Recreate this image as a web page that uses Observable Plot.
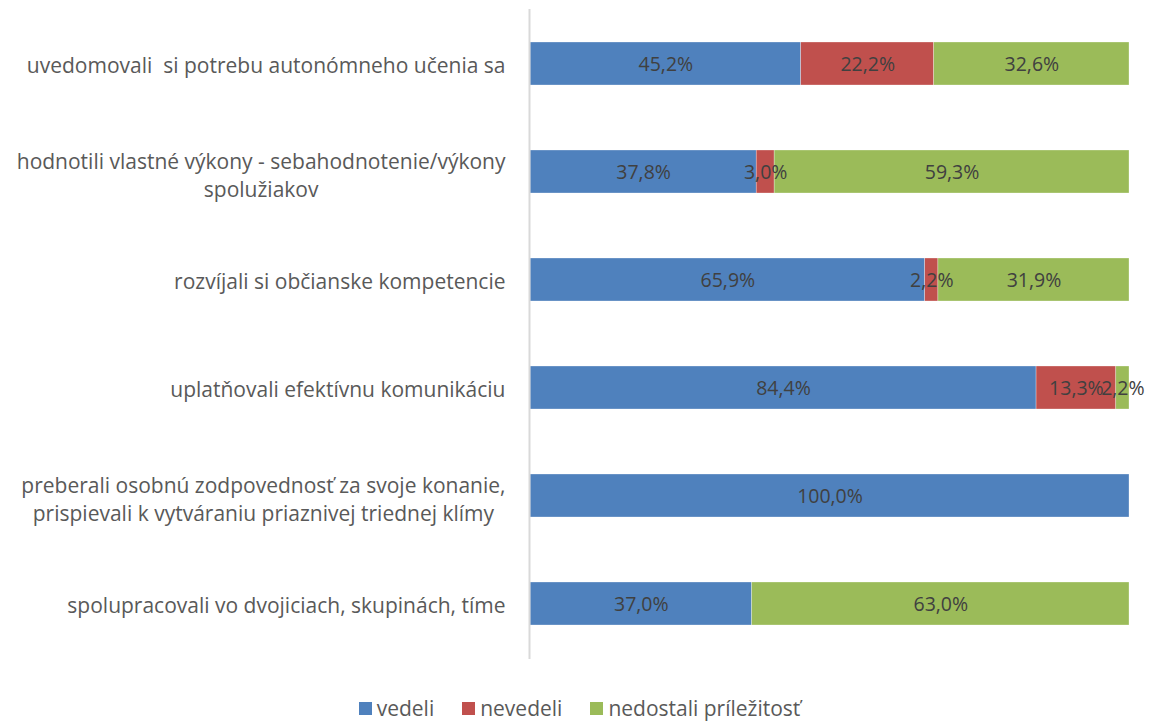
<!DOCTYPE html>
<html>
<head>
<meta charset="utf-8">
<script src="https://cdn.jsdelivr.net/npm/d3@7"></script>
<script src="https://cdn.jsdelivr.net/npm/@observablehq/plot@0.6"></script>
<style>
  html, body { margin: 0; padding: 0; background: #fff; }
  #chart svg { display: block; }
  #legend { display: flex; justify-content: center; gap: 28px; font-family: "Open Sans", Lato, sans-serif; font-size: 21px; color: #595959; margin-top: 4px; padding-left: 10px; }
  #legend span.item { display: inline-flex; align-items: center; }
  #legend span.sw { display: inline-block; width: 13px; height: 13px; margin-right: 5px; }
</style>
</head>
<body>
<div id="chart"></div>
<div id="legend"></div>
<script>
// ---- data ----
const categories = [
  "uvedomovali  si potrebu autonómneho učenia sa",
  "hodnotili vlastné výkony - sebahodnotenie/výkony\nspolužiakov",
  "rozvíjali si občianske kompetencie",
  "uplatňovali efektívnu komunikáciu",
  "preberali osobnú zodpovednosť za svoje konanie,\nprispievali k vytváraniu priaznivej triednej klímy",
  "spolupracovali vo dvojiciach, skupinách, tíme"
];
const series = ["vedeli", "nevedeli", "nedostali príležitosť"];
const vedeli = [45.2, 37.8, 65.9, 84.4, 100.0, 37.0];
const nevedeli = [22.2, 3.0, 2.2, 13.3, 0.0, 0.0];
const nedostali = [32.6, 59.3, 31.9, 2.2, 0.0, 63.0];
const colors = ["#4F81BD", "#C0504D", "#9BBB59"];

// ---- build table ----
const seriesValues = [vedeli, nevedeli, nedostali];
const table = [];
categories.forEach((c, i) => {
  series.forEach((s, j) => {
    table.push({category: c, series: s, value: seriesValues[j][i]});
  });
});

const FONT = "'Open Sans', Lato, sans-serif";
const LABEL_SIZE = 21;
const ctx = document.createElement("canvas").getContext("2d");
ctx.font = `${LABEL_SIZE}px 'Open Sans'`;
const lineW = (s) => Math.max(...s.split("\n").map(l => ctx.measureText(l).width));

const fmt = v => v.toFixed(1).replace(".", ",") + "%";
const GAP = 25;

const labelMarks = categories.map(c =>
  Plot.text([c], {
    y: d => d,
    text: d => d,
    frameAnchor: "left",
    textAnchor: "middle",
    dx: -(GAP + lineW(c) / 2),
    dy: c.includes("\n") ? 2 : 0,
    fill: "#595959",
    fontSize: LABEL_SIZE,
    lineHeight: 1.35
  })
);

const chart = Plot.plot({
  width: 1149,
  height: 690,
  marginLeft: 530,
  marginRight: 20,
  marginTop: 9,
  marginBottom: 31,
  style: {fontFamily: FONT, background: "#fff"},
  x: {domain: [0, 1], axis: null},
  y: {domain: categories, axis: null, paddingInner: 0.6, paddingOuter: 0.3},
  color: {domain: series, range: colors},
  marks: [
    Plot.barX(table, Plot.stackX({
      offset: "normalize",
      x: "value",
      y: "category",
      fill: "series",
      order: series,
      stroke: "#fff",
      strokeOpacity: 0.6,
      strokeWidth: 0.5
    })),
    Plot.text(table, Plot.stackX({
      offset: "normalize",
      x: "value",
      y: "category",
      z: "series",
      order: series,
      filter: d => d.value > 0,
      text: d => fmt(d.value),
      fill: "#404040",
      fontSize: 19.5,
      dy: 1
    })),
    Plot.ruleX([0], {stroke: "#d9d9d9", strokeWidth: 2, dx: -1}),
    ...labelMarks
  ]
});
document.getElementById("chart").append(chart);

// ---- legend ----
const legend = document.getElementById("legend");
series.forEach((s, i) => {
  const item = document.createElement("span");
  item.className = "item";
  const sw = document.createElement("span");
  sw.className = "sw";
  sw.style.background = colors[i];
  item.append(sw, document.createTextNode(s));
  legend.append(item);
});
</script>
</body>
</html>
